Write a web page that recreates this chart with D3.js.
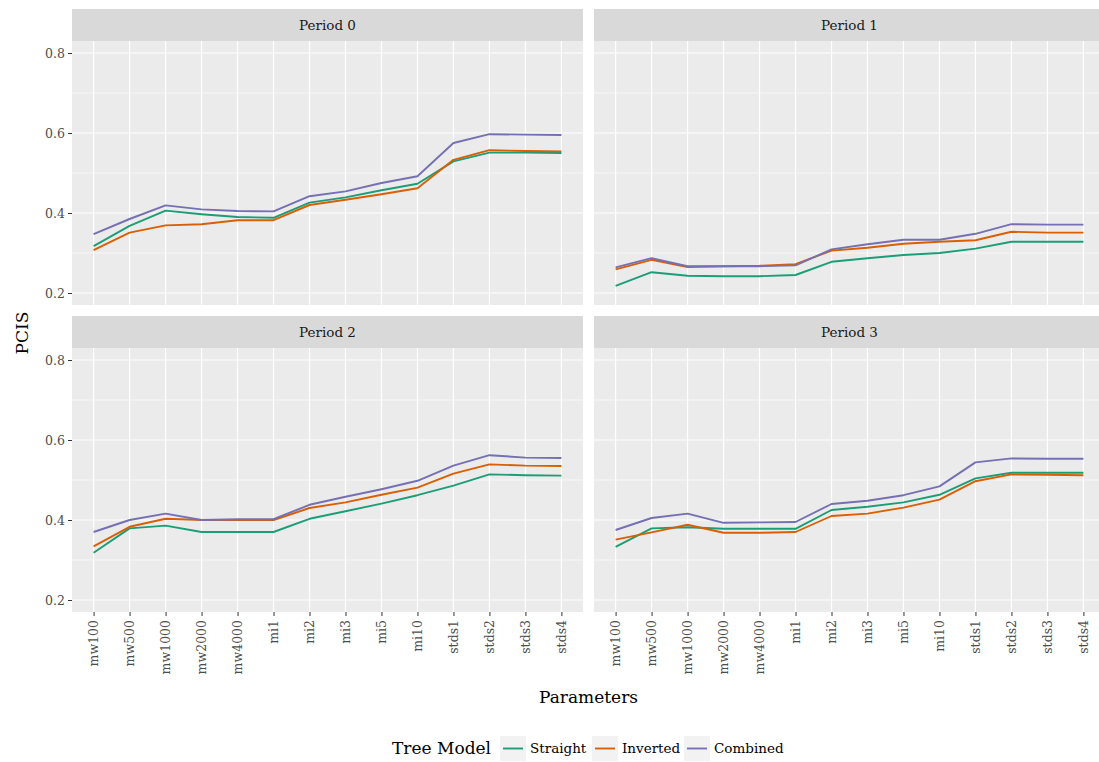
<!DOCTYPE html>
<html>
<head>
<meta charset="utf-8">
<script src="https://cdn.jsdelivr.net/npm/d3@7"></script>
<style>
  body { margin: 0; background: #fff; }
  svg { display: block; font-family: "DejaVu Serif", serif; }
</style>
</head>
<body>
<div id="chart"></div>
<script>
// categories on the x axis
const params = ["mw100", "mw500", "mw1000", "mw2000", "mw4000", "mi1", "mi2", "mi3", "mi5", "mi10", "stds1", "stds2", "stds3", "stds4"];
const periods = ["Period 0", "Period 1", "Period 2", "Period 3"];
const models = ["Straight", "Inverted", "Combined"];
const yTicks = [0.2, 0.4, 0.6, 0.8];
const yMinor = [0.3, 0.5, 0.7];

// PCIS values, one array per period and model
const p0Straight = [0.317, 0.368, 0.406, 0.397, 0.390, 0.388, 0.426, 0.439, 0.457, 0.473, 0.529, 0.551, 0.551, 0.550];
const p0Inverted = [0.307, 0.351, 0.369, 0.372, 0.382, 0.382, 0.420, 0.433, 0.447, 0.462, 0.533, 0.557, 0.555, 0.554];
const p0Combined = [0.347, 0.385, 0.419, 0.409, 0.405, 0.404, 0.442, 0.454, 0.475, 0.492, 0.575, 0.597, 0.596, 0.595];

const p1Straight = [0.218, 0.252, 0.243, 0.242, 0.242, 0.245, 0.278, 0.287, 0.295, 0.300, 0.311, 0.328, 0.328, 0.328];
const p1Inverted = [0.259, 0.283, 0.265, 0.267, 0.268, 0.272, 0.306, 0.313, 0.323, 0.328, 0.332, 0.353, 0.351, 0.351];
const p1Combined = [0.264, 0.287, 0.267, 0.267, 0.267, 0.269, 0.309, 0.322, 0.333, 0.333, 0.348, 0.372, 0.371, 0.371];

const p2Straight = [0.318, 0.379, 0.386, 0.370, 0.370, 0.370, 0.403, 0.422, 0.441, 0.462, 0.486, 0.514, 0.512, 0.511];
const p2Inverted = [0.334, 0.383, 0.403, 0.400, 0.400, 0.400, 0.430, 0.444, 0.463, 0.481, 0.516, 0.539, 0.536, 0.535];
const p2Combined = [0.370, 0.400, 0.416, 0.400, 0.402, 0.402, 0.438, 0.458, 0.477, 0.498, 0.536, 0.562, 0.556, 0.555];

const p3Straight = [0.333, 0.379, 0.382, 0.378, 0.378, 0.378, 0.425, 0.433, 0.444, 0.463, 0.504, 0.518, 0.518, 0.518];
const p3Inverted = [0.351, 0.369, 0.388, 0.368, 0.368, 0.370, 0.410, 0.416, 0.431, 0.451, 0.497, 0.514, 0.513, 0.512];
const p3Combined = [0.375, 0.405, 0.416, 0.393, 0.394, 0.395, 0.440, 0.448, 0.462, 0.484, 0.544, 0.554, 0.553, 0.553];

const colors = ["#1B9E77", "#D95F02", "#7570B3"];

// table for drawing
const series = [
  [p0Straight, p0Inverted, p0Combined],
  [p1Straight, p1Inverted, p1Combined],
  [p2Straight, p2Inverted, p2Combined],
  [p3Straight, p3Inverted, p3Combined]
];

const width = 1099, height = 762;
const panelW = 511, panelH = 264, stripH = 32;
const colX = [72, 594];
const rowY = [9, 316]; // top of strip
const font = "DejaVu Serif";

let svg = d3.select("#chart")
  .append("svg")
  .attr("width", width)
  .attr("height", height);

let y = d3.scaleLinear()
  .domain([0.17, 0.83])
  .range([panelH, 0]);

periods.forEach((name, i) => {
  const col = i % 2, row = Math.floor(i / 2);
  const left = colX[col], top = rowY[row];

  let x = d3.scalePoint()
    .domain(params)
    .range([0, panelW])
    .padding(0.6);

  // strip
  svg.append("rect")
    .attr("x", left).attr("y", top)
    .attr("width", panelW).attr("height", stripH)
    .attr("fill", "#D9D9D9");
  svg.append("text")
    .attr("x", left + panelW / 2).attr("y", top + stripH / 2 + 5)
    .attr("text-anchor", "middle")
    .attr("font-size", 13.5)
    .attr("fill", "#1A1A1A")
    .text(name);

  let g = svg.append("g")
    .attr("transform", `translate(${left},${top + stripH})`);

  g.append("rect")
    .attr("width", panelW).attr("height", panelH)
    .attr("fill", "#EBEBEB");

  // grid
  g.selectAll(".minor").data(yMinor).join("line")
    .attr("x1", 0).attr("x2", panelW)
    .attr("y1", d => y(d)).attr("y2", d => y(d))
    .attr("stroke", "#fff").attr("stroke-width", 0.6);
  g.selectAll(".major").data(yTicks).join("line")
    .attr("x1", 0).attr("x2", panelW)
    .attr("y1", d => y(d)).attr("y2", d => y(d))
    .attr("stroke", "#fff").attr("stroke-width", 1.2);
  g.selectAll(".vgrid").data(params).join("line")
    .attr("x1", d => x(d)).attr("x2", d => x(d))
    .attr("y1", 0).attr("y2", panelH)
    .attr("stroke", "#fff").attr("stroke-width", 1.2);

  // lines
  const line = d3.line()
    .x((d, k) => x(params[k]))
    .y(d => y(d));
  series[i].forEach((vals, m) => {
    g.append("path")
      .datum(vals)
      .attr("d", line)
      .attr("fill", "none")
      .attr("stroke", colors[m])
      .attr("stroke-width", 1.9)
      .attr("stroke-linejoin", "round");
  });

  // y axis on the left column
  if (col === 0) {
    const yAxis = d3.axisLeft(y).tickValues(yTicks).tickSize(4).tickPadding(3).tickFormat(d3.format(".1f"));
    let ya = g.append("g").call(yAxis);
    ya.select(".domain").remove();
    ya.selectAll("line").attr("stroke", "#333");
    ya.selectAll("text")
      .style("font-family", font)
      .style("font-size", "12.5px")
      .attr("fill", "#4D4D4D");
  }

  // x axis on the bottom row
  if (row === 1) {
    const xAxis = d3.axisBottom(x).tickSize(4).tickPadding(4);
    let xa = g.append("g")
      .attr("transform", `translate(0,${panelH})`)
      .call(xAxis);
    xa.select(".domain").remove();
    xa.selectAll("line").attr("stroke", "#333");
    xa.selectAll("text")
      .style("font-family", font)
      .style("font-size", "12.5px")
      .attr("fill", "#4D4D4D")
      .attr("transform", "rotate(-90)")
      .attr("text-anchor", "end")
      .attr("x", -8)
      .attr("y", 0)
      .attr("dy", "0.35em");
  }
});

// axis titles
svg.append("text")
  .attr("x", (72 + 1105) / 2).attr("y", 703)
  .attr("text-anchor", "middle")
  .attr("font-size", 17)
  .text("Parameters");

svg.append("text")
  .attr("transform", `translate(28,333) rotate(-90)`)
  .attr("text-anchor", "middle")
  .attr("font-size", 17)
  .text("PCIS");

// legend
let legend = svg.append("g");
legend.append("text")
  .attr("x", 392).attr("y", 754)
  .attr("font-size", 17)
  .text("Tree Model");

const keyX = [500, 592, 684];
models.forEach((m, k) => {
  let kg = legend.append("g").attr("transform", `translate(${keyX[k]},736)`);
  kg.append("rect").attr("width", 26).attr("height", 25).attr("fill", "#F2F2F2");
  kg.append("line")
    .attr("x1", 3).attr("x2", 23).attr("y1", 12.5).attr("y2", 12.5)
    .attr("stroke", colors[k]).attr("stroke-width", 1.9);
  kg.append("text")
    .attr("x", 30).attr("y", 17)
    .attr("font-size", 13.5)
    .text(m);
});
</script>
</body>
</html>
